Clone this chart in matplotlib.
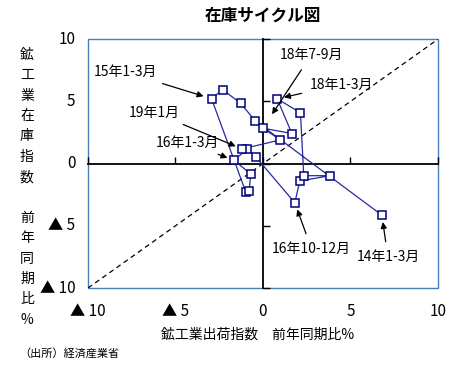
import matplotlib
matplotlib.use("Agg")
import matplotlib.pyplot as plt
from matplotlib.patches import Rectangle
from matplotlib.transforms import blended_transform_factory

plt.rcParams['font.family'] = ['Noto Sans CJK JP', 'DejaVu Sans']

# 鉱工業 出荷・在庫 前年同期比（%）, 14年1-3月 → 19年1月
periods = ["14Q1", "14Q2", "14Q3", "14Q4", "15Q1", "15Q2", "15Q3", "15Q4",
           "16Q1", "16Q2", "16Q3", "16Q4", "17Q1", "17Q2", "17Q3", "17Q4",
           "18Q1", "18Q2", "18Q3", "18Q4", "19M1"]
shipments = [6.79, -0.45, -1.27, -2.30, -2.94, -0.99, -0.79, -0.70,
             -1.66, -0.89, -0.41, 1.82, 2.10, 3.82, 2.33, 2.14,
             0.81, 1.65, -0.01, 1.00, -1.19]
inventory = [-4.14, 3.44, 4.84, 5.94, 5.22, -2.26, -2.18, -0.83,
             0.27, 1.18, 0.54, -3.15, -1.40, -0.97, -0.97, 4.09,
             5.21, 2.42, 2.85, 1.91, 1.18]

ticks = [-10, -5, 0, 5, 10]
tick_labels = ["▲ 10", "▲ 5", "0", "5", "10"]

# (ラベル, 対象期間, テキスト位置, 矢印先の縮め)
notes = [
    ("15年1-3月", "15Q1", (-7.86, 7.35), 6),
    ("19年1月", "19M1", (-6.2, 4.1), 5),
    ("16年1-3月", "16Q1", (-4.34, 1.69), 5),
    ("18年7-9月", "18Q3", (2.74, 8.70), 12),
    ("18年1-3月", "18Q1", (4.49, 6.36), 5),
    ("16年10-12月", "16Q4", (2.77, -6.84), 5),
    ("14年1-3月", "14Q1", (7.14, -7.51), 5),
]

fig = plt.figure(figsize=(4.73, 3.77), dpi=100)
ax = fig.add_axes([0.186, 0.236, 0.740, 0.660])
ax.set_xlim(-10, 10)
ax.set_ylim(-10, 10)

# 枠
for s in ["top", "right"]:
    ax.spines[s].set_visible(False)
ax.add_patch(Rectangle((0, 0), 1, 1, transform=ax.transAxes, fill=False,
                       edgecolor="#4a7ebb", linewidth=1.0, zorder=1,
                       clip_on=False))
# 0 の位置に軸
ax.spines["left"].set_position(("data", 0))
ax.spines["bottom"].set_position(("data", 0))
for s in ["left", "bottom"]:
    ax.spines[s].set_color("black")
    ax.spines[s].set_linewidth(1.3)
ax.set_xticks(ticks)
ax.set_yticks(ticks)
ax.tick_params(direction="in", length=5, width=1.0, colors="black",
               labelleft=False, labelbottom=False)

ax.plot(ticks, ticks, color="black", linestyle=(0, (4, 3)), linewidth=0.9,
        zorder=2)

ax.plot(shipments, inventory, color="#2a2a9a", linewidth=0.9,
        marker="s", markersize=5.2, markerfacecolor="white",
        markeredgecolor="#000080", markeredgewidth=1.1, zorder=3)

# 目盛ラベル
tx = blended_transform_factory(ax.transData, ax.transAxes)
ty = blended_transform_factory(ax.transAxes, ax.transData)
for v, t in zip(ticks, tick_labels):
    ax.text(v, -0.095, t, transform=tx, ha="center", va="center",
            fontsize=11, clip_on=False)
    ax.text(-0.036, v, t, transform=ty, ha="right", va="center",
            fontsize=11, clip_on=False)

for text, key, xy_text, shrink in notes:
    i = periods.index(key)
    ax.annotate(text, xy=(shipments[i], inventory[i]), xytext=xy_text,
                ha="center", va="center", fontsize=10,
                arrowprops=dict(arrowstyle="-|>", color="black", lw=0.9,
                                shrinkA=4, shrinkB=shrink, mutation_scale=9))

fig.text(0.556, 0.958, "在庫サイクル図", ha="center", va="center",
         fontsize=12, fontweight="bold")
fig.text(0.545, 0.112, "鉱工業出荷指数　前年同期比%", ha="center",
         va="center", fontsize=10)
fig.text(0.057, 0.503, "鉱\n工\n業\n在\n庫\n指\n数\n\n前\n年\n同\n期\n比\n%",
         ha="center", va="center", fontsize=10, linespacing=1.58)
fig.text(0.04, 0.063, "（出所）経済産業省", ha="left", va="center",
         fontsize=8)

fig.savefig("out.png", dpi=100)
